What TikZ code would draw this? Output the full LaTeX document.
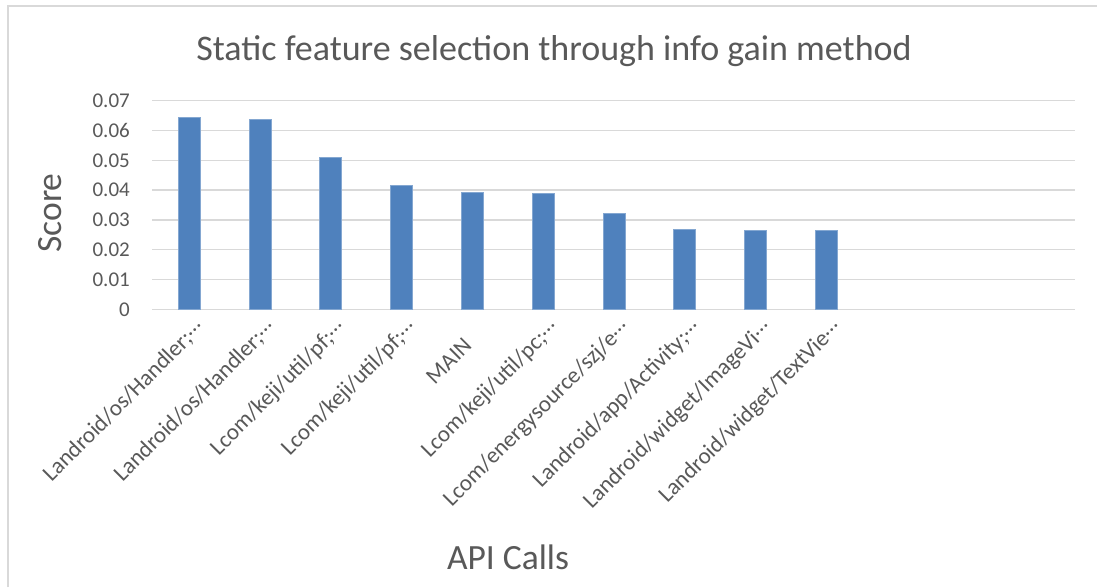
\documentclass[tikz,border=0pt]{standalone}
\usepackage{fontspec}
\setmainfont{Carlito}
\definecolor{txt}{HTML}{595959}
\definecolor{gridc}{HTML}{D9D9D9}
\definecolor{barc}{HTML}{4F81BD}
\newcommand{\trunc}{\raisebox{0.22em}{…}}
\begin{document}
\begin{tikzpicture}[x=1pt,y=-1pt,
  tick/.style={anchor=east, text=txt, font=\fontsize{21}{21}\selectfont, inner sep=0pt},
  cat/.style={anchor=base east, rotate=45, text=txt, font=\fontsize{23}{23}\selectfont, inner sep=0pt},
  gline/.style={draw=gridc, line width=1.5pt},
  barbox/.style={fill=barc, draw=barc!70!white, line width=0.6pt},
  axtitle/.style={text=txt, font=\fontsize{35.5}{35.5}\selectfont, inner sep=0pt}]
\path[use as bounding box, fill=white] (0,0) rectangle (1097,587);
\draw[draw=gridc, line width=1.3pt] (8,587) -- (8,6) -- (1097,6);
% gridlines
\foreach \k in {0,...,7} {
  \draw[gline] (152,{309.3-29.8*\k}) -- (1075,{309.3-29.8*\k});
}
% tick labels
\node[tick] (t0) at (130,309.3) {0};
\node[tick] (t1) at (130,279.5) {0.01};
\node[tick] (t2) at (130,249.7) {0.02};
\node[tick] (t3) at (130,219.9) {0.03};
\node[tick] (t4) at (130,190.1) {0.04};
\node[tick] (t5) at (130,160.3) {0.05};
\node[tick] (t6) at (130,130.5) {0.06};
\node[tick] (t7) at (130,100.7) {0.07};
% bars
\foreach \i/\v in {1/0.0643,2/0.0638,3/0.0510,4/0.0416,5/0.0393,6/0.0388,7/0.0323,8/0.0270,9/0.0265,10/0.0265} {
  \pgfmathsetmacro\c{153.6+70.8*(\i-0.5)}
  \path[barbox] ({\c-11},309.3) rectangle ({\c+11},{309.3-2980*\v});
}
% category labels
\node[cat] (c1) at (205,329) {Landroid/os/Handler;\trunc};
\node[cat] (c2) at (276,329) {Landroid/os/Handler;\trunc};
\node[cat] (c3) at (346,329) {Lcom/keji/util/pf;\trunc};
\node[cat] (c4) at (417,329) {Lcom/keji/util/pf;\trunc};
\node[cat] (c5) at (473,347) {MAIN};
\node[cat] (c6) at (559,329) {Lcom/keji/util/pc;\trunc};
\node[cat] (c7) at (630,329) {Lcom/energysource/szj/e\trunc};
\node[cat] (c8) at (701,329) {Landroid/app/Activity;\trunc};
\node[cat] (c9) at (772,329) {Landroid/widget/ImageVi\trunc};
\node[cat] (c10) at (842,329) {Landroid/widget/TextVie\trunc};
% titles
\node[text=txt, font=\fontsize{36}{36}\selectfont, inner sep=0pt, anchor=base] (title) at (554,60) {Static feature selection through info gain method};
\node[axtitle, rotate=90] (ylab) at (50,213) {Score};
\node[axtitle, anchor=base] (xlab) at (508,569) {API Calls};
\end{tikzpicture}
\end{document}
